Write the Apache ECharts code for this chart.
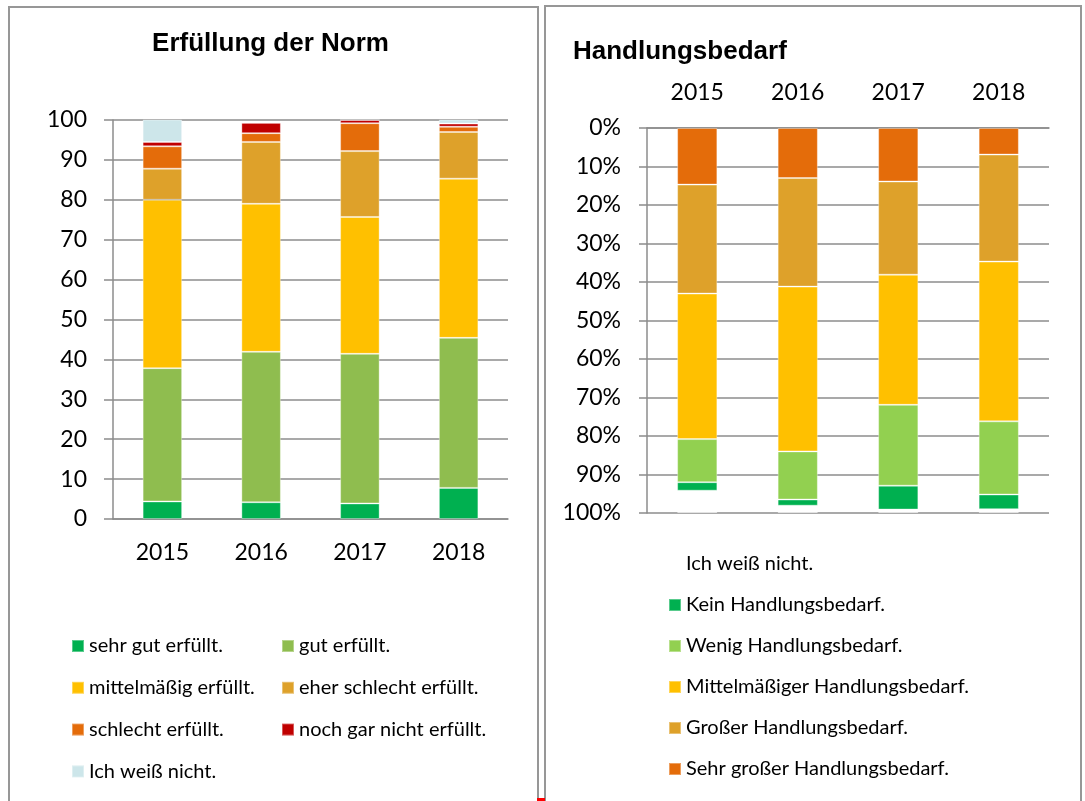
<!DOCTYPE html>
<html lang="de">
<head>
    <meta charset="UTF-8">
    <title>Erfüllung der Norm / Handlungsbedarf</title>
    <script src="https://cdn.jsdelivr.net/npm/echarts@6/dist/echarts.min.js"></script>
    <style>
        body { margin: 0; background: #fff; }
        .panel { position: absolute; border: 2px solid #979797; box-sizing: border-box; }
        .chart { position: absolute; top: 0; height: 801px; }
    </style>
</head>
<body>
<div class="panel" style="left:8px;top:6px;width:531px;height:810px;"></div>
<div class="panel" style="left:544px;top:5px;width:538px;height:810px;"></div>
<div style="position:absolute;left:537px;top:798px;width:8px;height:3px;background:#ff0000;"></div>
<div id="left" class="chart" style="left:0;width:541px;"></div>
<div id="right" class="chart" style="left:541px;width:544px;"></div>
<script>
    // Daten
    var years = ['2015', '2016', '2017', '2018'];

    // Erfüllung der Norm (Werte 0-100)
    var sehrGut      = [4.4, 4.2, 3.9, 7.8];
    var gut          = [33.4, 37.7, 37.5, 37.6];
    var mittel       = [42.2, 37.1, 34.3, 39.9];
    var eherSchlecht = [7.8, 15.5, 16.5, 11.7];
    var schlecht     = [5.6, 2.2, 7.0, 1.3];
    var nochGarNicht = [1.1, 2.6, 0.8, 0.8];
    var weissNichtL  = [5.6, 0, 0, 1.0];

    // Handlungsbedarf (Prozent, von oben gestapelt)
    var sehrGross    = [14.7, 13.0, 13.9, 6.9];
    var gross        = [28.3, 28.2, 24.2, 27.8];
    var mittelH      = [37.8, 42.8, 33.8, 41.5];
    var wenig        = [11.2, 12.5, 21.0, 19.0];
    var kein         = [2.2, 1.6, 6.2, 3.8];
    var weissNichtR  = [5.8, 1.9, 0.9, 1.0];

    var gridGrey = '#8c8c8c';
    var labelFont = 'Lato';

    function bar(name, data, color) {
        return {
            name: name,
            type: 'bar',
            stack: 'total',
            barWidth: '40%',
            data: data,
            itemStyle: { color: color, borderColor: 'rgba(255,255,255,0.35)', borderWidth: 1 }
        };
    }

    var legendText = { fontFamily: labelFont, fontSize: 20, color: '#000', lineHeight: 22 };

    // linkes Diagramm
    var leftChart = echarts.init(document.getElementById('left'));
    leftChart.setOption({
        animation: false,
        title: {
            text: 'Erfüllung der Norm',
            left: 'center',
            top: 26,
            textStyle: { fontFamily: 'Liberation Sans', fontWeight: 'bold', fontSize: 26, color: '#000' }
        },
        grid: { left: 113, top: 120, width: 395, height: 399 },
        legend: [
            {
                orient: 'vertical', left: 66, top: 630, icon: 'rect',
                itemWidth: 12, itemHeight: 12, itemGap: 19.8,
                textStyle: legendText,
                data: ['sehr gut erfüllt.', 'mittelmäßig erfüllt.', 'schlecht erfüllt.', 'Ich weiß nicht.']
            },
            {
                orient: 'vertical', left: 276, top: 630, icon: 'rect',
                itemWidth: 12, itemHeight: 12, itemGap: 19.8,
                textStyle: legendText,
                data: ['gut erfüllt.', 'eher schlecht erfüllt.', 'noch gar nicht erfüllt.']
            }
        ],
        xAxis: {
            type: 'category',
            data: years,
            axisLine: { lineStyle: { color: gridGrey, width: 1.5 } },
            axisTick: { length: 8, lineStyle: { color: gridGrey, width: 1.5 } },
            axisLabel: { margin: 22, fontFamily: labelFont, fontSize: 23, color: '#000' }
        },
        yAxis: {
            type: 'value',
            min: 0, max: 100, interval: 10,
            axisLine: { show: true, lineStyle: { color: gridGrey, width: 1.5 } },
            axisTick: { show: true, length: 9, lineStyle: { color: gridGrey, width: 1.5 } },
            splitLine: { lineStyle: { color: gridGrey, width: 1.5 } },
            axisLabel: { margin: 26, fontFamily: labelFont, fontSize: 23, color: '#000' }
        },
        series: [
            bar('sehr gut erfüllt.', sehrGut, '#00b050'),
            bar('gut erfüllt.', gut, '#8fbd4f'),
            bar('mittelmäßig erfüllt.', mittel, '#ffc000'),
            bar('eher schlecht erfüllt.', eherSchlecht, '#dea12a'),
            bar('schlecht erfüllt.', schlecht, '#e46c0a'),
            bar('noch gar nicht erfüllt.', nochGarNicht, '#c00000'),
            bar('Ich weiß nicht.', weissNichtL, '#cde6ea')
        ]
    });

    // rechtes Diagramm
    var rightChart = echarts.init(document.getElementById('right'));
    rightChart.setOption({
        animation: false,
        title: {
            text: 'Handlungsbedarf',
            left: 27,
            top: 34,
            textStyle: { fontFamily: 'Liberation Sans', fontWeight: 'bold', fontSize: 26, color: '#000' }
        },
        grid: { left: 106, top: 128, width: 402, height: 385 },
        legend: {
            orient: 'vertical', left: 122, top: 548, icon: 'rect',
            itemWidth: 12, itemHeight: 12, itemGap: 19,
            textStyle: legendText,
            data: [
                { name: 'Ich weiß nicht.', itemStyle: { color: '#ffffff', borderWidth: 0 } },
                'Kein Handlungsbedarf.',
                'Wenig Handlungsbedarf.',
                'Mittelmäßiger Handlungsbedarf.',
                'Großer Handlungsbedarf.',
                'Sehr großer Handlungsbedarf.'
            ]
        },
        xAxis: {
            type: 'category',
            position: 'top',
            data: years,
            axisLine: { lineStyle: { color: gridGrey, width: 1.5 } },
            axisTick: { length: 7, lineStyle: { color: gridGrey, width: 1.5 } },
            axisLabel: { margin: 24, fontFamily: labelFont, fontSize: 23, color: '#000' }
        },
        yAxis: {
            type: 'value',
            inverse: true,
            min: 0, max: 100, interval: 10,
            axisLine: { show: true, lineStyle: { color: gridGrey, width: 1.5 } },
            axisTick: { show: true, length: 8, lineStyle: { color: gridGrey, width: 1.5 } },
            splitLine: { lineStyle: { color: gridGrey, width: 1.5 } },
            axisLabel: { margin: 26, fontFamily: labelFont, fontSize: 23, color: '#000', formatter: '{value}%' }
        },
        series: [
            bar('Sehr großer Handlungsbedarf.', sehrGross, '#e46c0a'),
            bar('Großer Handlungsbedarf.', gross, '#dea12a'),
            bar('Mittelmäßiger Handlungsbedarf.', mittelH, '#ffc000'),
            bar('Wenig Handlungsbedarf.', wenig, '#92d050'),
            bar('Kein Handlungsbedarf.', kein, '#00b050'),
            bar('Ich weiß nicht.', weissNichtR, '#ffffff')
        ]
    });
</script>
</body>
</html>
